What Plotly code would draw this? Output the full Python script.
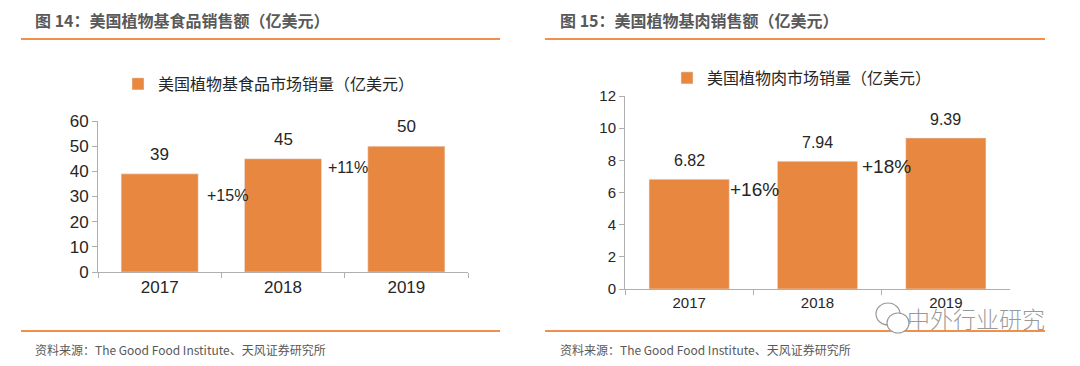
import plotly.graph_objects as go

# ---------------- data ----------------
years = ["2017", "2018", "2019"]
food_sales = [39, 45, 50]
meat_sales = [6.82, 7.94, 9.39]
food_growth = ["+15%", "+11%"]
meat_growth = ["+16%", "+18%"]
food_name = "美国植物基食品市场销量（亿美元）"
meat_name = "美国植物肉市场销量（亿美元）"
title_left = "图 14：美国植物基食品销售额（亿美元）"
title_right = "图 15：美国植物基肉销售额（亿美元）"
source_text = "资料来源：The Good Food Institute、天风证券研究所"
food_ticks = [0, 10, 20, 30, 40, 50, 60]
meat_ticks = [0, 2, 4, 6, 8, 10, 12]

BAR = "#E8873F"
LINE = "#F0904A"
AXIS = "#AFAFAF"
TXT = "#262626"
CJK = "Noto Sans CJK SC"
LAT = "Liberation Sans"

# page body has an 8px default margin; size the figure to fit the window
OFF = 8
W, H = 1080 - OFF, 366 - OFF
def px(x): return (x - OFF) / W
def py(y): return 1 - (y - OFF) / H

fig = go.Figure()
fig.add_trace(go.Bar(x=years, y=food_sales, name=food_name, marker_color=BAR,
                     xaxis="x", yaxis="y", legend="legend", hoverinfo="x+y"))
fig.add_trace(go.Bar(x=years, y=meat_sales, name=meat_name, marker_color=BAR,
                     xaxis="x2", yaxis="y2", legend="legend2", hoverinfo="x+y"))

axis_common = dict(showline=True, linecolor=AXIS, linewidth=1, showgrid=False,
                   zeroline=False, ticks="outside", tickcolor=AXIS, ticklen=5,
                   fixedrange=True, automargin=False)

annotations = []
# value labels above bars (x = category index)
for i, v in enumerate(food_sales):
    annotations.append(dict(x=i, y=v, xref="x", yref="y", text=str(v),
                            showarrow=False, yanchor="bottom", yshift=8,
                            font=dict(family=LAT, size=17, color=TXT)))
for i, v in enumerate(meat_sales):
    annotations.append(dict(x=i, y=v, xref="x2", yref="y2", text=f"{v:.2f}",
                            showarrow=False, yanchor="bottom", yshift=8,
                            font=dict(family=LAT, size=16, color=TXT)))
# growth labels (x in category-index units)
food_growth_pos = [(0.55, 30.2), (1.53, 41.7)]
for g, (gx, gy) in zip(food_growth, food_growth_pos):
    annotations.append(dict(x=gx, y=gy, xref="x", yref="y", text=g, showarrow=False,
                            font=dict(family=LAT, size=16, color=TXT)))
meat_growth_pos = [(0.51, 6.16), (1.54, 7.59)]
for g, (gx, gy) in zip(meat_growth, meat_growth_pos):
    annotations.append(dict(x=gx, y=gy, xref="x2", yref="y2", text=g, showarrow=False,
                            font=dict(family=LAT, size=19, color=TXT)))
# titles
for t, x0 in [(title_left, 33), (title_right, 558)]:
    annotations.append(dict(x=px(x0), y=py(20), xref="paper", yref="paper", text=t,
                            showarrow=False, xanchor="left", yanchor="middle",
                            font=dict(family=CJK, size=16, color="#595959", weight="bold")))
# sources
for x0 in [33, 558]:
    annotations.append(dict(x=px(x0), y=py(349), xref="paper", yref="paper", text=source_text,
                            showarrow=False, xanchor="left", yanchor="middle",
                            font=dict(family=CJK, size=12, color="#595959")))
# watermark
annotations.append(dict(x=px(905), y=py(318), xref="paper", yref="paper", text="中外行业研究",
                        showarrow=False, xanchor="left", yanchor="middle",
                        font=dict(family=CJK, size=23, color="rgba(120,120,120,0.75)", weight=300)))

shapes = []
for (a, b) in [(21, 500), (545, 1045)]:
    for yy in [39, 331]:
        shapes.append(dict(type="line", xref="paper", yref="paper", x0=px(a), x1=px(b),
                           y0=py(yy), y1=py(yy), line=dict(color=LINE, width=2)))
# wechat-like icon outlines
shapes.append(dict(type="circle", xref="paper", yref="paper", x0=px(876), x1=px(900),
                   y0=py(325), y1=py(303), line=dict(color="#9a9a9a", width=1.2),
                   fillcolor="white"))
shapes.append(dict(type="circle", xref="paper", yref="paper", x0=px(887), x1=px(909),
                   y0=py(333), y1=py(313), line=dict(color="#9a9a9a", width=1.2),
                   fillcolor="white"))

fig.update_layout(
    width=W, height=H,
    margin=dict(l=0, r=0, t=0, b=0, autoexpand=False),
    paper_bgcolor="white", plot_bgcolor="white",
    bargap=0.375,
    showlegend=True,
    xaxis=dict(domain=[px(98), px(468)], anchor="y", type="category", tickson="boundaries",
               range=[-0.5, 2.5], tickangle=0,
               tickfont=dict(family=LAT, size=17, color=TXT), **axis_common),
    yaxis=dict(domain=[py(272), py(121)], anchor="x", range=[0, 60],
               tickvals=food_ticks, tickfont=dict(family=LAT, size=17, color=TXT),
               **axis_common),
    xaxis2=dict(domain=[px(625), px(1010)], anchor="y2", type="category", tickson="boundaries",
                range=[-0.5, 2.5], tickangle=0,
                tickfont=dict(family=LAT, size=15, color=TXT), **axis_common),
    yaxis2=dict(domain=[py(289), py(96)], anchor="x2", range=[0, 12],
                tickvals=meat_ticks, tickfont=dict(family=LAT, size=15, color=TXT),
                **axis_common),
    legend=dict(x=px(118), y=py(84), xanchor="left", yanchor="middle",
                font=dict(family=CJK, size=16, color=TXT), bgcolor="rgba(0,0,0,0)"),
    legend2=dict(x=px(667), y=py(78), xanchor="left", yanchor="middle",
                 font=dict(family=CJK, size=16, color=TXT), bgcolor="rgba(0,0,0,0)"),
    annotations=annotations,
    shapes=shapes,
)

fig.write_html("out.html")
